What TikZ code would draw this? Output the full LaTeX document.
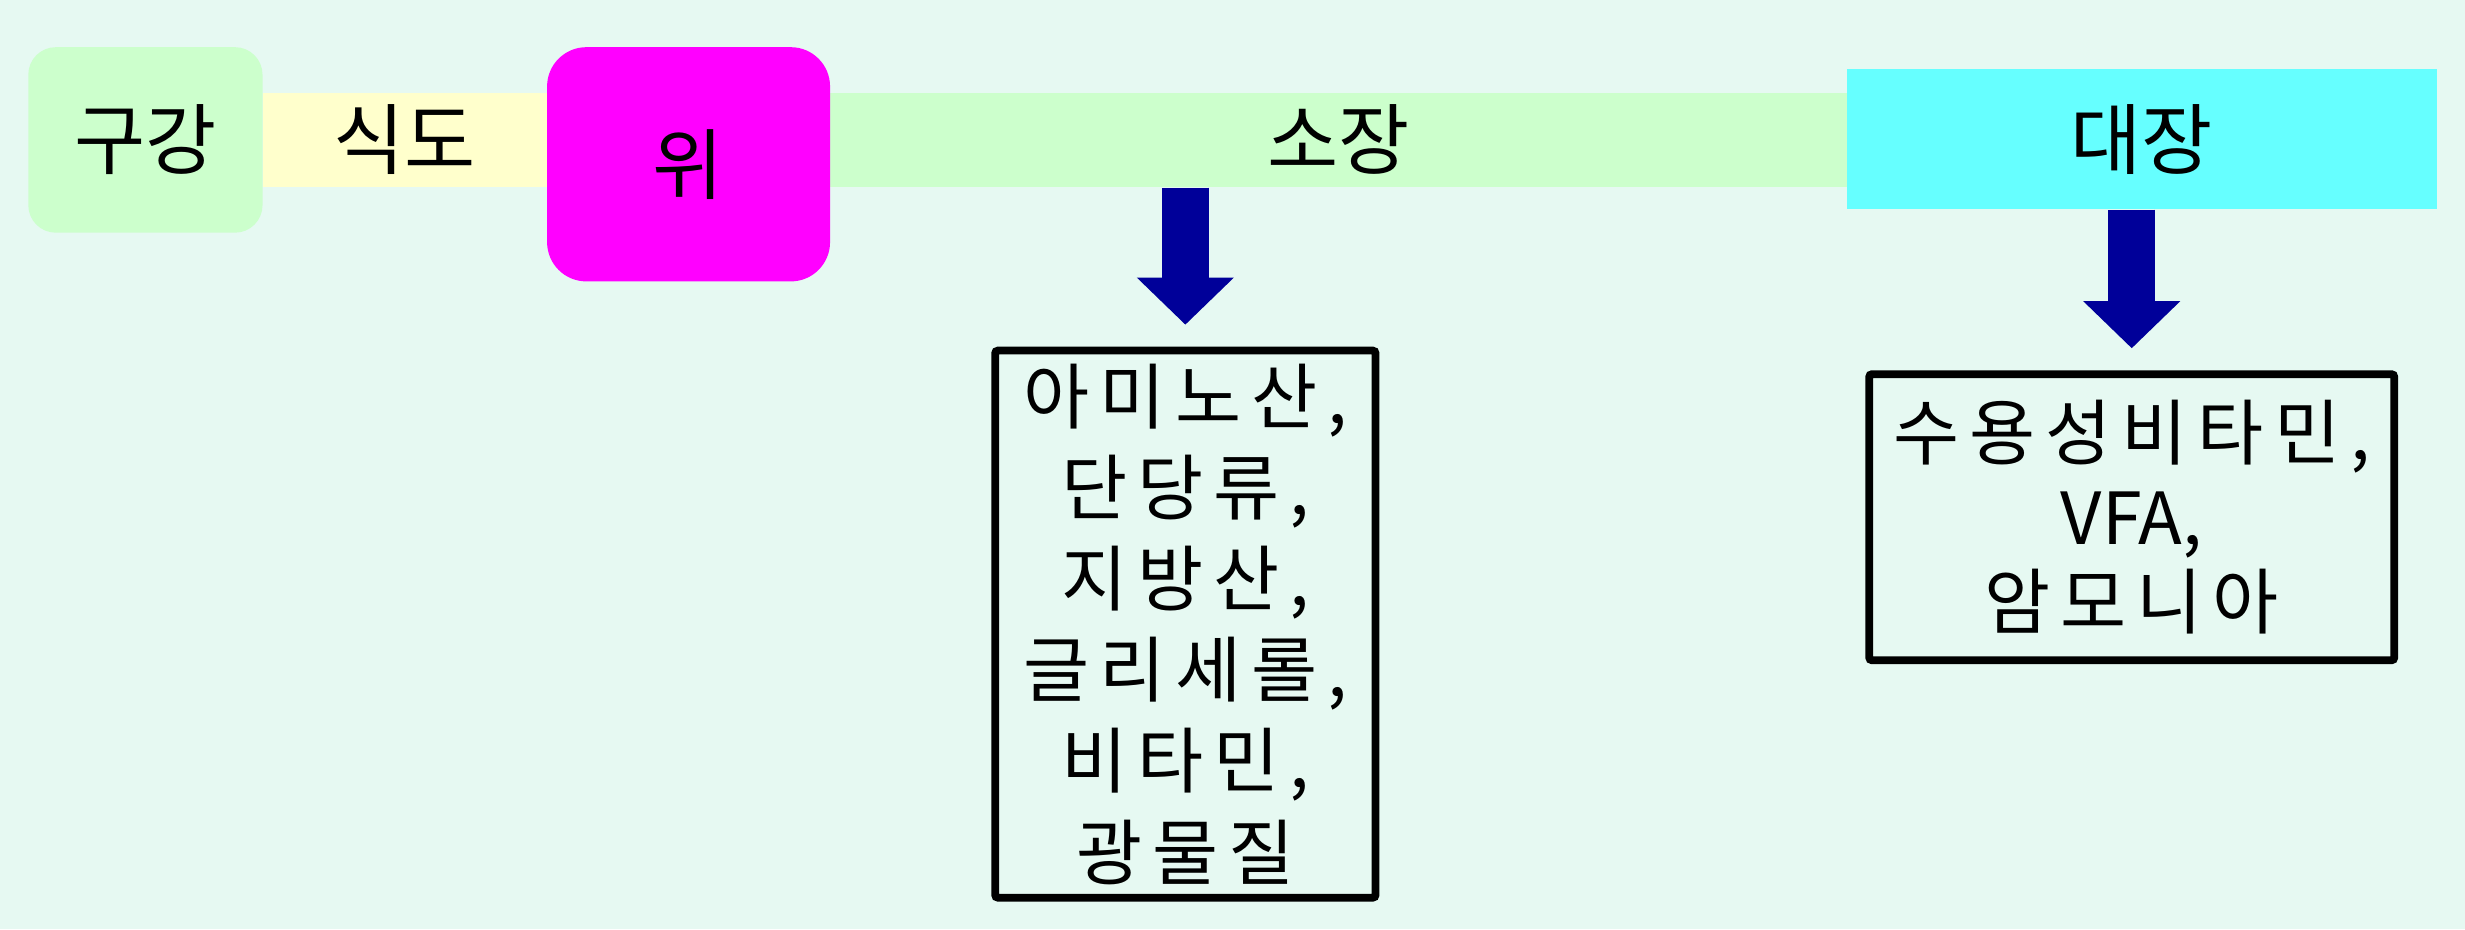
\documentclass[tikz,border=0pt]{standalone}
\usepackage{fontspec}
\setmainfont{Noto Sans CJK KR}
\newfontfamily\spacedkr{Noto Sans CJK KR}[LetterSpace=14]
\usetikzlibrary{arrows.meta}
\definecolor{bgmint}{HTML}{E6F9F2}
\definecolor{tubegreen}{HTML}{CCFFCC}
\definecolor{tubeyellow}{HTML}{FFFFCC}
\definecolor{stomachpink}{HTML}{FF00FF}
\definecolor{colcyan}{HTML}{66FFFF}
\definecolor{arrowblue}{HTML}{000099}
\begin{document}
\begin{tikzpicture}[
		organ/.style={inner sep=0pt, font=\fontsize{28}{32}\selectfont},
		tube/.style={organ, minimum height=1.2cm},
		nutrient/.style={draw, line width=2.8pt, rounded corners=1pt, align=center, inner sep=0pt, font=\spacedkr\fontsize{26}{33}\selectfont},
		bigarrow/.style={draw=arrowblue, line width=0.6cm, -{Triangle[width=1.2cm,length=0.6cm,fill=arrowblue]}}
	]
		\fill[bgmint] (0,0) rectangle (31.36,-11.82);
		% tubes
		\node[tube, fill=tubeyellow, minimum width=3.62cm] (sikdo) at (5.15,-1.78) {식도};
		\node[tube, fill=tubegreen, minimum width=12.94cm] (sojang) at (17.03,-1.78) {소장};
		% organs
		\node[organ, fill=tubegreen, rounded corners=0.35cm, minimum width=2.98cm, minimum height=2.36cm] (gugang) at (1.85,-1.78) {구강};
		\node[organ, fill=stomachpink, rounded corners=0.5cm, minimum width=3.6cm, minimum height=2.98cm] (wi) at (8.76,-2.09) {위};
		\node[organ, fill=colcyan, minimum width=7.5cm, minimum height=1.78cm] (daejang) at (27.25,-1.77) {대장};
		% absorbed
		\node[nutrient, minimum width=4.84cm, minimum height=6.96cm] (sojangbox) at (15.08,-7.94) {아미노산,\\단당류,\\지방산,\\글리세롤,\\비타민,\\광물질};
		\node[nutrient, minimum width=6.68cm, minimum height=3.64cm, font=\spacedkr\fontsize{26}{30.5}\selectfont] (daejangbox) at (27.12,-6.58) {수용성비타민,\\{\rmfamily VFA,}\\암모니아};
		\draw[bigarrow] (sojangbox.north |- sojang.south) -- ([yshift=0.28cm]sojangbox.north);
		\draw[bigarrow] (daejangbox.north |- daejang.south) -- ([yshift=0.28cm]daejangbox.north);
	\end{tikzpicture}
\end{document}
